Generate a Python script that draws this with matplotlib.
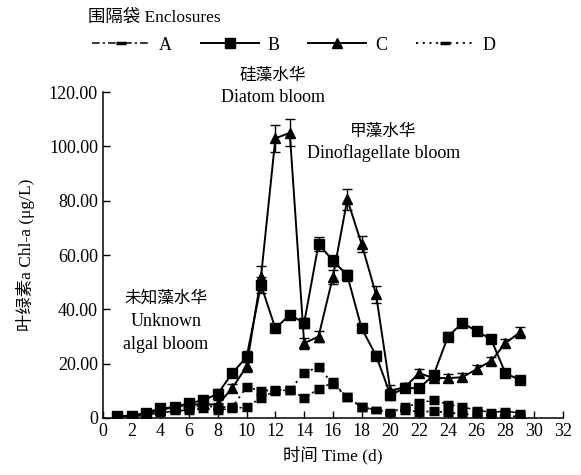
import matplotlib
matplotlib.use("Agg")
from matplotlib import pyplot as plt
from matplotlib.lines import Line2D
import numpy as np

plt.rcParams['font.family'] = ['Liberation Serif', 'Noto Sans CJK SC']

days = list(range(1, 30))

# enclosure A (dash-dot), B (squares), C (triangles), D (dotted)
chl_a = [0.5, 0.5, 1.0, 2.0, 2.5, 3.0, 3.5, 3.0, 3.5, 4.0, 7.4, 10.0, 10.3, 7.4, 10.7,
         13.0, 7.7, 4.0, 3.0, 2.0, 4.0, 5.5, 6.6, 5.0, 4.0, 3.0, 2.0, 2.6, 1.8]
chl_b = [0.8, 0.7, 2.0, 3.5, 4.0, 5.5, 6.5, 9.0, 16.5, 22.5, 49.0, 33.0, 38.0, 35.0, 64.0,
         58.0, 52.5, 33.0, 23.0, 8.5, 11.0, 11.0, 15.8, 30.0, 35.0, 32.0, 29.0, 16.5, 14.0]
chl_c = [0.8, 0.8, 1.5, 3.0, 4.0, 5.0, 5.0, 5.0, 11.0, 19.0, 52.0, 103.0, 105.0, 27.5, 30.0,
         52.0, 80.5, 64.0, 45.5, 10.0, 11.4, 16.5, 14.7, 14.7, 15.0, 18.0, 21.0, 27.6, 31.5]
chl_d = [0.5, 0.8, 1.5, 2.5, 3.0, 4.0, 4.5, 4.0, 4.0, 11.4, 10.0, 10.3, 10.3, 16.6, 18.8,
         12.5, 7.7, 4.0, 3.0, 1.8, 3.0, 2.2, 2.5, 2.0, 1.5, 1.2, 1.0, 0.8, 0.5]

err_a = [0.5, 0.5, 0.6, 0.8, 0.8, 1.0, 1.0, 1.0, 1.0, 1.0, 1.0, 1.0, 1.0, 1.2, 1.2,
         1.2, 1.0, 1.0, 0.8, 0.8, 1.0, 1.0, 1.0, 1.0, 1.0, 0.8, 0.8, 0.8, 0.6]
err_b = [0.8, 0.8, 1.0, 1.2, 1.2, 1.5, 1.5, 1.5, 1.5, 2.0, 3.0, 1.5, 1.5, 2.0, 2.5,
         2.0, 2.0, 1.5, 1.5, 2.0, 1.5, 1.5, 1.5, 1.5, 1.5, 1.5, 1.5, 1.5, 1.5]
err_c = [0.8, 0.8, 1.0, 1.2, 1.2, 1.5, 1.5, 1.5, 1.5, 2.0, 4.0, 5.0, 5.0, 2.0, 2.0,
         2.5, 4.0, 3.0, 3.0, 2.0, 1.5, 1.5, 1.5, 1.5, 1.5, 1.5, 1.5, 1.5, 2.0]
err_d = [0.5, 0.5, 0.6, 0.8, 0.8, 1.0, 1.0, 1.0, 1.0, 1.0, 1.0, 1.0, 1.0, 1.2, 1.2,
         1.2, 1.0, 1.0, 0.8, 0.8, 1.0, 1.0, 1.0, 1.0, 0.8, 0.6, 0.6, 0.5, 0.5]

fig = plt.figure(figsize=(5.81, 4.75), dpi=100)
ax = fig.add_axes([0.177, 0.12, 0.792, 0.686])

common = dict(color='black', ecolor='black', capsize=3.5, elinewidth=1.0, capthick=1.0)
ax.errorbar(days, chl_a, yerr=err_a, linestyle=(0, (5, 2, 1.5, 2)), linewidth=1.1,
            marker='_', markersize=7, markeredgewidth=2.5, **common)
ax.errorbar(days, chl_b, yerr=err_b, linestyle='-', linewidth=1.4,
            marker='s', markersize=6.5, **common)
ax.errorbar(days, chl_c, yerr=err_c, linestyle='-', linewidth=1.4,
            marker='^', markersize=7, **common)
ax.errorbar(days, chl_d, yerr=err_d, linestyle=(0, (1.2, 2.5)), linewidth=1.3,
            marker='_', markersize=7, markeredgewidth=2.5, **common)

ax.set_xlim(0, 32)
ax.set_ylim(0, 120)
ax.set_xticks(np.arange(0, 33, 2))
ax.set_yticks(np.arange(0, 121, 20))
ax.set_yticklabels(['0'] + ['%.2f' % v for v in np.arange(20, 121, 20)])
ax.tick_params(direction='in', length=5, width=1, labelsize=13)
ax.spines['top'].set_visible(False)
ax.spines['right'].set_visible(False)
for s in ['left', 'bottom']:
    ax.spines[s].set_linewidth(1.1)
ax.set_xlabel('时间 Time (d)', fontsize=12.5, labelpad=4)
ax.set_ylabel('叶绿素a Chl-a (μg/L)', fontsize=12.5, labelpad=10)

# bloom annotations
ax.text(11.8, 126.0, '硅藻水华', ha='center', va='center', fontsize=12, clip_on=False)
ax.text(11.8, 118.0, 'Diatom bloom', ha='center', va='center', fontsize=13, clip_on=False)
ax.text(19.5, 105.5, '甲藻水华', ha='center', va='center', fontsize=12)
ax.text(19.5, 97.5, 'Dinoflagellate bloom', ha='center', va='center', fontsize=13)
ax.text(4.4, 44.0, '未知藻水华', ha='center', va='center', fontsize=12)
ax.text(4.4, 35.5, 'Unknown', ha='center', va='center', fontsize=13)
ax.text(4.4, 27.0, 'algal bloom', ha='center', va='center', fontsize=13)

# legend
fig.text(0.152, 0.962, '围隔袋 Enclosures', ha='left', va='center', fontsize=12.5)
handles = [
    Line2D([], [], color='black', linestyle=(0, (5, 2, 1.5, 2)), linewidth=1.1,
           marker='_', markersize=7, markeredgewidth=2.5),
    Line2D([], [], color='black', linestyle='-', linewidth=1.4, marker='s', markersize=6.5),
    Line2D([], [], color='black', linestyle='-', linewidth=1.4, marker='^', markersize=7),
    Line2D([], [], color='black', linestyle=(0, (1.2, 2.5)), linewidth=1.3,
           marker='_', markersize=7, markeredgewidth=2.5),
]
fig.legend(handles, ['A', 'B', 'C', 'D'], loc='center left', bbox_to_anchor=(0.146, 0.905),
           ncol=4, frameon=False, fontsize=13, handlelength=3.2, handletextpad=0.5,
           columnspacing=1.6, borderaxespad=0)

fig.savefig('out.png', dpi=100)
